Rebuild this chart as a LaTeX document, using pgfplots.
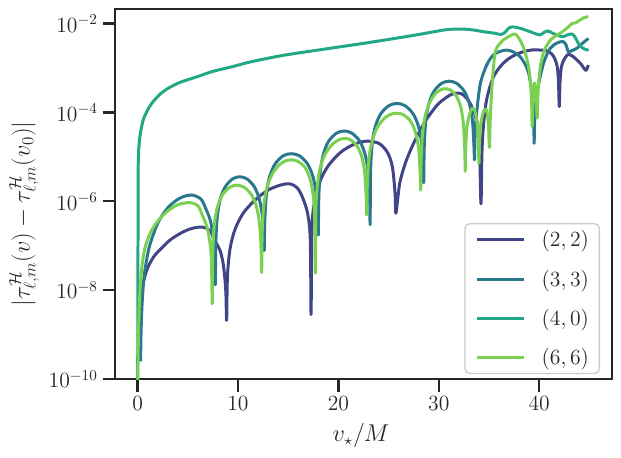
\RequirePackage{fix-cm}
\documentclass[border=0pt]{standalone}
\usepackage{pgfplots}
\pgfplotsset{compat=1.18}
\definecolor{cA}{HTML}{414487}
\definecolor{cB}{HTML}{2A788E}
\definecolor{cC}{HTML}{22A884}
\definecolor{cD}{HTML}{7AD151}
\definecolor{axgray}{gray}{0.15}
\tikzset{ser/.style={#1, line width=2.15pt, line join=round, smooth, tension=0.5}}
\begin{document}
\begin{tikzpicture}
\path[use as bounding box] (-82.8pt,-56.2pt) rectangle (364.3pt,272.9pt);
\begin{axis}[
  at={(0pt,0pt)}, anchor=south west,
  width=357.8pt, height=266.4pt, scale only axis,
  ymode=log, xmin=-2.25, xmax=47.25, ymin=1e-10, ymax=0.021,
  ytick={1e-10,1e-8,1e-6,1e-4,1e-2},
  xtick={0,10,20,30,40},
  yminorticks=false, xminorticks=false,
  xtick pos=bottom, ytick pos=left,
  axis line style={draw=axgray, line width=1.8pt},
  tick style={draw=axgray, line width=1.8pt},
  tick align=outside, major tick length=9pt,
  tick label style={font=\fontsize{15.6}{18.7}\selectfont, text=axgray},
  label style={font=\fontsize{17.5}{21}\selectfont, text=axgray},
  xlabel={$v_\star/M$},
  ylabel={$|\tau^{\mathcal{H}}_{\ell,m}(v)-\tau^{\mathcal{H}}_{\ell,m}(v_0)|$},
  xlabel style={at={(axis description cs:0.495,0)}, anchor=base, yshift=-45.1pt},
  ylabel style={at={(axis description cs:-0.183,0.446)}, anchor=center},
  legend style={at={(axis description cs:1,0)}, anchor=south east, xshift=-8.6pt, yshift=3.5pt,
    draw=black!20, line width=1pt, rounded corners=3.5pt, fill=white, fill opacity=0.8, text opacity=1,
    font=\fontsize{15.6}{18.7}\selectfont, text=axgray, inner xsep=7.5pt, inner ysep=5pt,
    row sep=15pt, column sep=12pt, nodes={inner sep=0pt}},
  legend cell align=left,
  legend image code/.code={\draw[#1, line width=2.15pt] (0pt,0pt) -- (33.6pt,0pt);},
  mark=none,
]
% (2,2)
\addplot[ser=cA] coordinates {
(0.22,3.98e-10)(0.3,2.51e-9)(0.4,7.08e-9)(0.6,1.58e-8)(1.0,3.16e-8)(1.6,5.62e-8)(2.2,7.94e-8)
(3.2,1.32e-7)(4.3,1.91e-7)(5.3,2.40e-7)(6.4,2.63e-7)(7.2,2.19e-7)(7.8,1.17e-7)(8.2,7.94e-8)
(8.5,4.27e-8)(8.7,1.78e-8)(8.8,7.94e-9)(8.87,2.09e-9)
(8.95,2.04e-8)(9.21,8.51e-8)(9.71,2.34e-7)(10.55,5.50e-7)(11.81,1.12e-6)(13.08,1.82e-6)
(14.34,2.34e-6)(15.2,2.45e-6)(15.9,2.00e-6)(16.44,1.20e-6)(16.94,5.25e-7)(17.2,1.38e-7)(17.28,2.82e-9)
(17.36,2.29e-7)(17.62,9.55e-7)(18.12,2.63e-6)(18.97,6.17e-6)(20.23,1.26e-5)(21.5,1.88e-5)
(22.77,2.24e-5)(24.03,2.00e-5)(24.88,1.26e-5)(25.38,5.89e-6)(25.64,1.55e-6)(25.72,5.37e-7)
(25.89,1.02e-6)(26.14,2.75e-6)(26.74,7.94e-6)(27.59,2.24e-5)(28.69,6.46e-5)(29.96,1.55e-4)
(31.23,2.51e-4)(32.0,2.69e-4)(32.5,2.40e-4)(33.18,1.51e-4)(33.78,6.46e-5)(34.03,2.63e-5)(34.2,8.71e-7)
(34.3,1.26e-5)(34.45,5.01e-5)(34.7,1.58e-4)(35.0,3.16e-4)(35.45,6.31e-4)(36.1,1.05e-3)(36.8,1.51e-3)
(37.6,1.95e-3)(38.4,2.29e-3)(39.2,2.51e-3)(40.1,2.51e-3)(40.8,2.40e-3)(41.3,2.00e-3)(41.6,1.51e-3)
(41.8,1.05e-3)(41.92,5.01e-4)(42.0,1.35e-4)(42.08,5.01e-4)(42.2,1.00e-3)(42.4,1.41e-3)(42.8,1.95e-3)
(43.1,1.95e-3)(43.4,1.78e-3)(44.1,1.26e-3)(44.6,8.91e-4)(44.75,9.33e-4)(44.9,1.15e-3)
};
\addlegendentry{$(2,2)$}
% (3,3)
\addplot[ser=cB] coordinates {
(0.3,2.51e-10)(0.35,1.26e-9)(0.45,5.01e-9)(0.6,1.58e-8)(0.8,3.55e-8)(1.2,1.00e-7)(2.0,3.16e-7)
(3.0,7.08e-7)(4.2,1.17e-6)(5.38,1.38e-6)(6.3,1.12e-6)(6.74,7.24e-7)(7.24,3.72e-7)(7.54,1.51e-7)
(7.66,6.03e-8)(7.74,1.32e-8)
(7.79,1.12e-7)(7.94,4.47e-7)(8.23,1.10e-6)(8.72,2.09e-6)(9.45,3.16e-6)(10.18,3.55e-6)(10.91,3.16e-6)
(11.64,2.09e-6)(12.13,1.10e-6)(12.43,4.47e-7)(12.57,1.12e-7)(12.62,8.13e-8)
(12.67,3.72e-7)(12.84,1.48e-6)(13.16,3.63e-6)(13.7,6.92e-6)(14.5,1.05e-5)(15.31,1.17e-5)(16.12,1.05e-5)
(16.92,6.92e-6)(17.46,3.63e-6)(17.78,1.48e-6)(17.95,3.72e-7)(18.0,1.74e-7)
(18.05,1.20e-6)(18.21,4.79e-6)(18.52,1.17e-5)(19.03,2.24e-5)(19.81,3.39e-5)(20.58,3.80e-5)(21.35,3.39e-5)
(22.13,2.24e-5)(22.64,1.17e-5)(22.95,4.79e-6)(23.11,1.20e-6)(23.16,3.02e-7)
(23.21,5.01e-6)(23.37,2.00e-5)(23.69,4.90e-5)(24.23,9.33e-5)(25.03,1.41e-4)(25.83,1.58e-4)(26.63,1.41e-4)
(27.43,9.33e-5)(27.97,4.90e-5)(28.29,2.00e-5)(28.45,5.01e-6)(28.5,2.63e-6)
(28.55,1.58e-5)(28.7,6.31e-5)(29.01,1.55e-4)(29.51,2.95e-4)(30.27,4.47e-4)(31.03,5.01e-4)(31.79,4.47e-4)
(32.55,2.95e-4)(33.05,1.55e-4)(33.36,6.31e-5)(33.51,1.58e-5)(33.56,8.51e-6)
(33.62,3.16e-5)(33.8,1.12e-4)(34.1,3.98e-4)(34.45,7.59e-4)(34.9,1.32e-3)(35.45,1.95e-3)(36.1,2.34e-3)
(36.8,2.51e-3)(37.5,2.24e-3)(38.1,1.78e-3)(38.6,1.20e-3)(38.95,7.59e-4)(39.2,3.55e-4)(39.38,1.26e-4)
(39.47,3.98e-5)(39.5,2.00e-5)(39.55,6.31e-5)(39.75,2.51e-4)(40.1,6.31e-4)(40.5,1.41e-3)(41.1,2.75e-3)
(41.8,3.63e-3)(42.4,3.89e-3)(42.7,3.16e-3)(42.9,2.29e-3)(43.2,2.40e-3)(43.75,2.75e-3)(44.3,3.55e-3)
(44.9,4.57e-3)
};
\addlegendentry{$(3,3)$}
% (4,0)
\addplot[ser=cC] coordinates {
(0.0,1e-11)(0.04,1e-7)(0.06,5.01e-6)(0.1,1.26e-5)(0.16,2.00e-5)(0.23,2.82e-5)(0.35,4.17e-5)
(0.56,6.76e-5)(0.8,9.12e-5)(1.0,1.12e-4)(1.4,1.58e-4)(2.2,2.51e-4)(3.05,3.47e-4)(4.2,4.68e-4)
(5.38,5.75e-4)(6.2,6.61e-4)(7.5,8.32e-4)(9.5,1.07e-3)(11,1.32e-3)(12.86,1.62e-3)(14.5,1.91e-3)
(16.2,2.19e-3)(19.5,2.82e-3)(22.8,3.63e-3)(26.15,4.79e-3)(28,5.62e-3)(29.5,6.46e-3)(30.5,7.08e-3)
(31.5,7.41e-3)(32.5,7.41e-3)(33.46,7.08e-3)(34.5,6.46e-3)(35.5,6.03e-3)(36.2,5.62e-3)(36.6,6.31e-3)
(37.0,7.94e-3)(37.3,8.32e-3)(37.7,8.13e-3)(38.1,7.76e-3)(39.0,6.61e-3)(39.6,5.89e-3)(40.1,5.50e-3)
(40.5,6.31e-3)(40.8,6.76e-3)(41.1,6.46e-3)(41.5,5.75e-3)(42.3,5.01e-3)(42.8,5.50e-3)(43.3,5.75e-3)
(43.6,4.79e-3)(43.9,3.55e-3)(44.3,2.82e-3)(44.76,2.51e-3)(44.9,2.63e-3)
};
\addlegendentry{$(4,0)$}
% (6,6)
\addplot[ser=cD] coordinates {
(0.0,3.16e-11)(0.05,3.16e-10)(0.1,1.26e-9)(0.18,5.01e-9)(0.3,1.58e-8)(0.5,4.47e-8)(0.8,1.00e-7)
(1.3,2.00e-7)(2.0,3.55e-7)(3.0,6.03e-7)(4.0,8.32e-7)(5.2,9.33e-7)(6.0,7.94e-7)(6.44,4.90e-7)
(6.94,2.51e-7)(7.24,1.02e-7)(7.36,4.07e-8)(7.44,4.90e-9)
(7.49,7.24e-8)(7.64,2.88e-7)(7.93,7.08e-7)(8.42,1.35e-6)(9.16,2.04e-6)(9.9,2.29e-6)(10.64,2.04e-6)
(11.38,1.35e-6)(11.87,7.08e-7)(12.16,2.88e-7)(12.31,7.24e-8)(12.36,2.51e-8)
(12.41,2.00e-7)(12.57,8.13e-7)(12.89,2.04e-6)(13.43,4.17e-6)(14.23,6.92e-6)(15.03,8.41e-6)(15.83,8.13e-6)
(16.63,5.89e-6)(17.17,3.24e-6)(17.49,1.38e-6)(17.65,3.55e-7)(17.7,2.40e-8)
(17.75,5.62e-7)(17.91,2.29e-6)(18.21,5.89e-6)(18.73,1.20e-5)(19.5,2.00e-5)(20.27,2.51e-5)(21.03,2.51e-5)
(21.8,1.82e-5)(22.32,1.02e-5)(22.62,4.37e-6)(22.78,1.12e-6)(22.83,4.90e-7)
(22.88,2.24e-6)(23.04,9.12e-6)(23.37,2.29e-5)(23.9,4.68e-5)(24.71,7.76e-5)(25.52,9.44e-5)(26.32,9.12e-5)
(27.13,6.61e-5)(27.66,3.63e-5)(27.99,1.55e-5)(28.15,3.98e-6)(28.2,1.78e-6)
(28.24,7.94e-6)(28.38,3.24e-5)(28.64,8.13e-5)(29.09,1.66e-4)(29.75,2.75e-4)(30.42,3.35e-4)(31.08,3.24e-4)
(31.74,2.34e-4)(32.19,1.29e-4)(32.45,5.50e-5)(32.59,1.41e-5)(32.63,4.68e-6)
(32.68,1.58e-5)(32.8,4.47e-5)(33.0,7.94e-5)(33.2,1.10e-4)(33.4,1.23e-4)(33.6,1.05e-4)(33.8,6.31e-5)
(33.93,2.82e-5)(34.0,7.08e-6)(34.07,2.51e-5)(34.2,5.62e-5)(34.4,9.55e-5)(34.6,1.17e-4)(34.73,1.17e-4)
(34.85,8.91e-5)(34.95,5.01e-5)(35.05,1.62e-5)(35.12,6.31e-5)(35.25,2.51e-4)(35.4,7.94e-4)(35.6,2.14e-3)
(35.85,3.02e-3)(36.1,3.55e-3)(36.5,4.37e-3)(36.95,5.01e-3)(37.6,5.75e-3)(38.1,4.17e-3)(38.5,2.63e-3)
(38.8,1.51e-3)(39.0,8.91e-4)(39.15,3.98e-4)(39.25,1.58e-4)(39.3,4.79e-5)(39.38,2.00e-4)(39.5,4.47e-4)
(39.6,3.98e-4)(39.7,2.24e-4)(39.8,7.41e-5)(39.9,3.16e-4)(40.1,1.00e-3)(40.35,1.91e-3)(40.6,2.75e-3)
(41.1,4.17e-3)(41.6,5.13e-3)(42.1,6.03e-3)(42.7,7.59e-3)(43.3,1.00e-2)(43.6,1.02e-2)(44.1,1.20e-2)
(44.5,1.35e-2)(44.9,1.41e-2)
};
\addlegendentry{$(6,6)$}
\end{axis}
\end{tikzpicture}
\end{document}
